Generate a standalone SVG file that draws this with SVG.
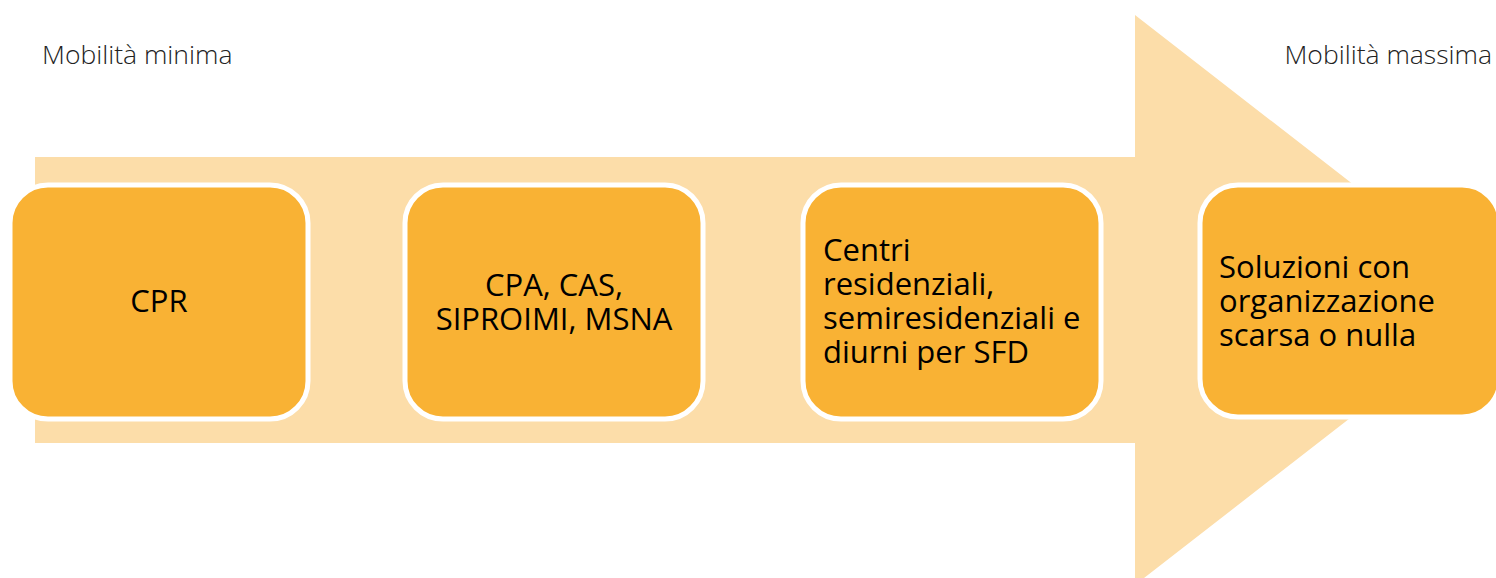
<svg xmlns="http://www.w3.org/2000/svg" width="1496" height="578" viewBox="0 0 1496 578">
<style>
.box{fill:#F9B234;stroke:#FFFFFF;stroke-width:5}
.t{font-family:"Open Sans","Liberation Sans",sans-serif;font-size:31px;fill:#000}
.lab{font-family:"Open Sans","Liberation Sans",sans-serif;font-size:26.5px;font-weight:300;fill:#222}
</style>
<rect width="1496" height="578" fill="#FFFFFF"/>
<g id="arrow">
<polygon points="35,157 1135,157 1135,15 1502,300 1135,585 1135,443 35,443" fill="#FCDDA9"/>
</g>
<g id="connectors"></g>
<text class="lab" x="42" y="64">Mobilità minima</text>
<text class="lab" x="1492" y="64" text-anchor="end">Mobilità massima</text>
<g id="n1">
<rect class="box" x="10" y="185" width="298" height="234" rx="38"/>
<text class="t" x="159" y="312" text-anchor="middle">CPR</text>
</g>
<g id="n2">
<rect class="box" x="405" y="185" width="298" height="234" rx="38"/>
<text class="t" x="554" y="296" text-anchor="middle">CPA, CAS,</text>
<text class="t" x="554" y="330" text-anchor="middle">SIPROIMI, MSNA</text>
</g>
<g id="n3">
<rect class="box" x="803" y="185" width="298" height="234" rx="38"/>
<text class="t" x="823" y="261">Centri</text>
<text class="t" x="823" y="295">residenziali,</text>
<text class="t" x="823" y="329">semiresidenziali e</text>
<text class="t" x="823" y="363">diurni per SFD</text>
</g>
<g id="n4">
<rect class="box" x="1200" y="185" width="300" height="232" rx="38"/>
<text class="t" x="1219" y="278">Soluzioni con</text>
<text class="t" x="1219" y="312">organizzazione</text>
<text class="t" x="1219" y="346">scarsa o nulla</text>
</g>
</svg>
